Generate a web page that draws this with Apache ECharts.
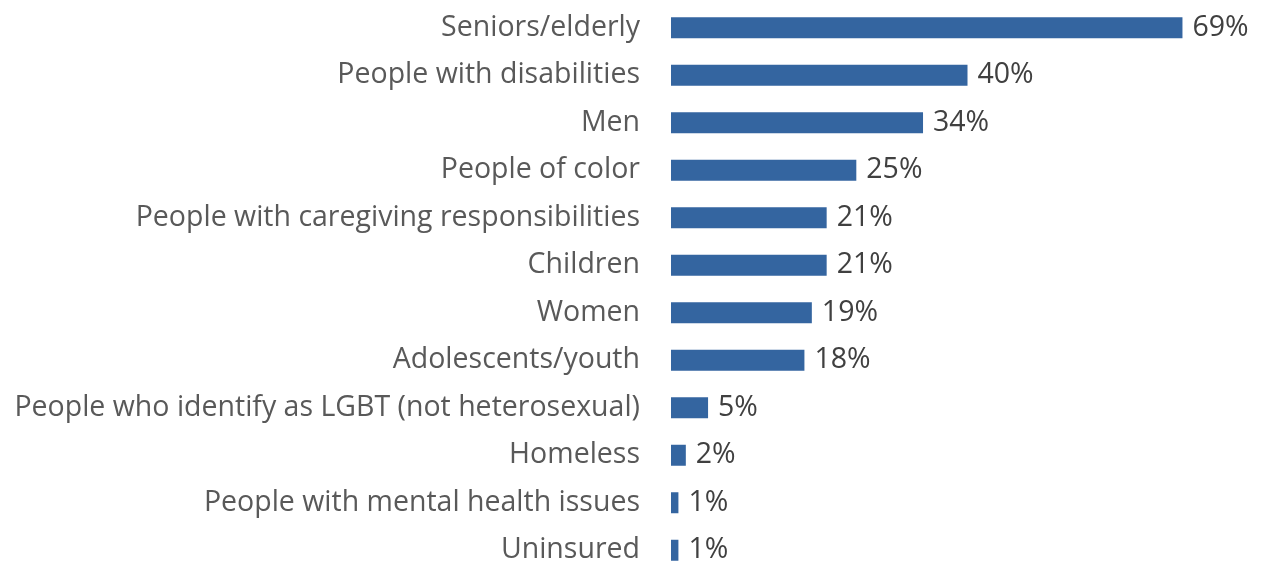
<!DOCTYPE html>
<html><head><meta charset="utf-8">
<script src="https://cdn.jsdelivr.net/npm/echarts@6/dist/echarts.min.js"></script>
<style>html,body{margin:0;padding:0;background:#fff}#c{width:1264px;height:565px}</style>
</head><body><div id="c"></div>
<script>
const categories = ["Seniors/elderly","People with disabilities","Men","People of color","People with caregiving responsibilities","Children","Women","Adolescents/youth","People who identify as LGBT (not heterosexual)","Homeless","People with mental health issues","Uninsured"];
const values = [69,40,34,25,21,21,19,18,5,2,1,1];
const chart = echarts.init(document.getElementById('c'), null, {renderer:'canvas'});
const font = 'Open Sans';
chart.setOption({
  animation:false,
  grid:{left:671, top:4, width:593, height:570, containLabel:false, outerBoundsMode:'none'},
  xAxis:{type:'value', min:0, max:80, show:false},
  yAxis:{type:'category', inverse:true, data:categories,
    axisLine:{show:false}, axisTick:{show:false}, splitLine:{show:false},
    axisLabel:{margin:31, color:'#595959', fontSize:28.5, fontFamily:font}},
  series:[{type:'bar', data:values, barWidth:21,
    itemStyle:{color:'#3465A0'},
    label:{show:true, position:'right', distance:10, formatter:'{c}%', color:'#404040', fontSize:28.5, fontFamily:font}}]
});
</script></body></html>
